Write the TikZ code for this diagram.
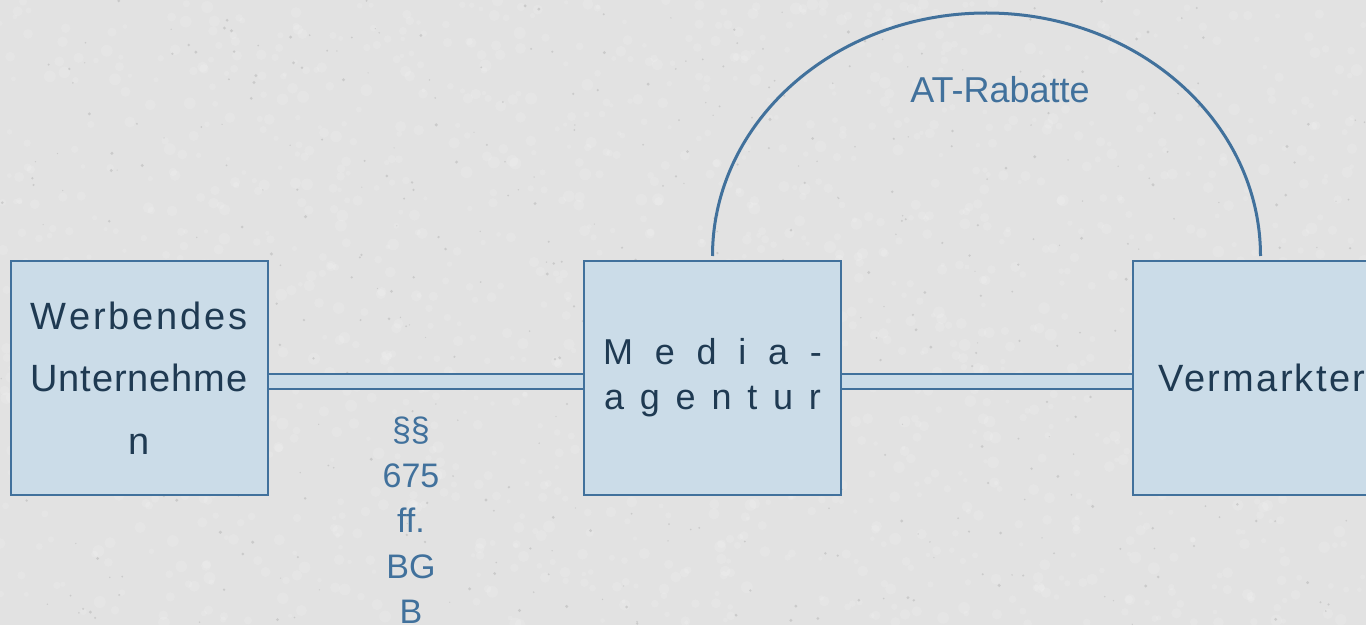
\documentclass[tikz,border=0pt]{standalone}
\usepackage{fontspec}
\setmainfont{Liberation Sans}
\newfontfamily\spaced[LetterSpace=6]{Liberation Sans}
\definecolor{bg}{HTML}{E2E2E2}
\definecolor{boxfill}{HTML}{CBDCE8}
\definecolor{boxline}{HTML}{41719C}
\definecolor{boxtext}{HTML}{1F3A52}
\definecolor{speck}{HTML}{B4B4B4}
\begin{document}
\begin{tikzpicture}[x=1pt,y=1pt,
  entity/.style={draw=boxline, fill=boxfill, line width=2pt, minimum width=257pt, minimum height=234pt, inner sep=0pt, text=boxtext, align=center},
  link/.style={draw=boxline, line width=2pt, double=boxfill, double distance=13pt},
  arcline/.style={draw=boxline, line width=3pt},
  lbl/.style={text=boxline, inner sep=0pt, align=center}]
\useasboundingbox (0,0) rectangle (1366,625);
\clip (0,0) rectangle (1366,625);
\fill[bg] (0,0) rectangle (1366,625);
\pgfmathsetseed{7}
\foreach \i in {1,...,1600}{
  \pgfmathsetmacro\px{rnd*1366}
  \pgfmathsetmacro\py{rnd*625}
  \pgfmathsetmacro\pr{2+rnd*4}
  \fill[white, opacity=0.12] (\px,\py) circle (\pr pt);
}
\foreach \i in {1,...,500}{
  \pgfmathsetmacro\px{rnd*1366}
  \pgfmathsetmacro\py{rnd*625}
  \pgfmathsetmacro\pr{0.6+rnd*1.1}
  \fill[speck, opacity=0.5] (\px,\py) circle (\pr pt);
}
\node[entity, font=\fontsize{38}{62.5}\selectfont] (wu) at (139,247) {\makebox[217pt][s]{W\hfill e\hfill r\hfill b\hfill e\hfill n\hfill d\hfill e\hfill s}\\\makebox[217pt][s]{U\hfill n\hfill t\hfill e\hfill r\hfill n\hfill e\hfill h\hfill m\hfill e}\\n};
\node[entity, font=\fontsize{36}{45}\selectfont] (ma) at (712.5,247) {\makebox[219pt][s]{M\hfill e\hfill d\hfill i\hfill a\hfill -}\\\makebox[217pt][s]{a\hfill g\hfill e\hfill n\hfill t\hfill u\hfill r}};
\node[entity, minimum width=258pt, font=\spaced\fontsize{38}{45}\selectfont] (vm) at (1262,247) {Vermarkter};
\draw[link] ([yshift=-3pt]wu.east) -- ([yshift=-3pt]ma.west);
\draw[link] ([yshift=-3pt]ma.east) -- ([yshift=-3pt]vm.west);
\draw[arcline] ([yshift=4pt]ma.north) arc[start angle=180, end angle=0, x radius=274, y radius=243];
\node[lbl, font=\fontsize{36}{43}\selectfont, anchor=base] (at) at (1000,522) {AT-Rabatte};
\node[lbl, font=\fontsize{34}{45.5}\selectfont, anchor=north] (bgb) at (411,208) {§§\\675\\ff.\\BG\\B};
\end{tikzpicture}
\end{document}
